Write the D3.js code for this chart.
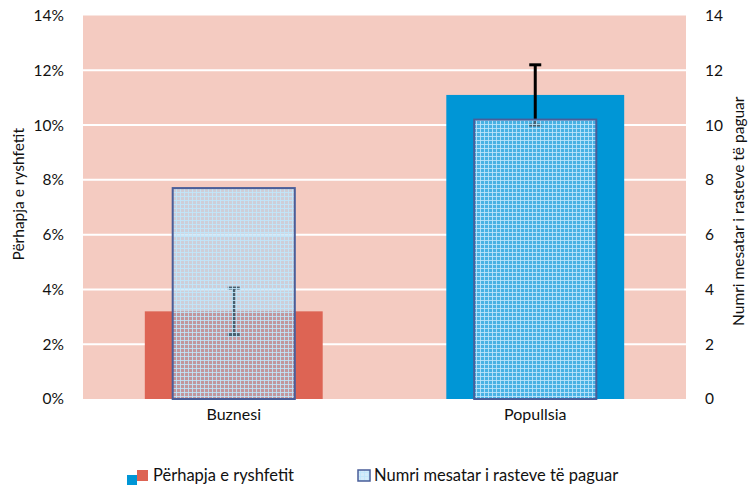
<!DOCTYPE html>
<html><head><meta charset="utf-8">
<script src="https://cdn.jsdelivr.net/npm/d3@7"></script>
<style>
body{margin:0;background:#fff}
svg{display:block}
text{font-family:Lato,"Liberation Sans",sans-serif;fill:#111}
</style>
</head><body><svg id="c" width="752" height="486"></svg>
<script>
const categories = ["Buznesi", "Popullsia"];
const prevalence = [3.2, 11.1];          // % (left axis)
const prevalenceErr = [0.85, 1.1];       // ± %
const meanCases = [7.7, 10.2];           // right axis
const leftTicks = [0, 2, 4, 6, 8, 10, 12, 14];
const rightTicks = [0, 2, 4, 6, 8, 10, 12, 14];
const prevalenceColors = ["#DD6454", "#0096D6"];
const leftTitle = "Përhapja e ryshfetit";
const rightTitle = "Numri mesatar i rasteve të paguar";
const legendLabels = ["Përhapja e ryshfetit", "Numri mesatar i rasteve të paguar"];

const svg = d3.select("#c");
const M = {l: 83, r: 686, t: 15.5, b: 399};

const x = d3.scaleBand().domain(categories).range([M.l, M.r]).padding(0);
const yL = d3.scaleLinear().domain([0, 14]).range([M.b, M.t]);
const yR = d3.scaleLinear().domain([0, 14]).range([M.b, M.t]);

// pattern
const defs = svg.append("defs");
const pat = defs.append("pattern").attr("id", "grid").attr("patternUnits", "userSpaceOnUse")
  .attr("width", 4).attr("height", 4);
pat.append("rect").attr("width", 4).attr("height", 4).attr("fill", "rgba(160,210,245,0.45)");
pat.append("rect").attr("x", 0).attr("y", 0).attr("width", 4).attr("height", 1).attr("fill", "rgba(192,230,252,0.85)");
pat.append("rect").attr("x", 0).attr("y", 0).attr("width", 1).attr("height", 4).attr("fill", "rgba(192,230,252,0.85)");

// plot background
svg.append("rect").attr("x", M.l).attr("y", M.t).attr("width", M.r - M.l).attr("height", M.b - M.t)
  .attr("fill", "#F4CBC1");

// gridlines
svg.append("g").selectAll("line").data(leftTicks.filter(d => d > 0 && d < 14)).join("line")
  .attr("x1", M.l).attr("x2", M.r)
  .attr("y1", d => yL(d)).attr("y2", d => yL(d))
  .attr("stroke", "#fff").attr("stroke-width", 2);

// prevalence bars
const bw1 = x.bandwidth() * 0.59;
svg.append("g").selectAll("rect").data(categories).join("rect")
  .attr("x", d => x(d) + (x.bandwidth() - bw1) / 2)
  .attr("width", bw1)
  .attr("y", (d, i) => yL(prevalence[i]))
  .attr("height", (d, i) => yL(0) - yL(prevalence[i]))
  .attr("fill", (d, i) => prevalenceColors[i]);

// error bars
const eg = svg.append("g").attr("stroke", "#000").attr("stroke-width", 3);
categories.forEach((c, i) => {
  const cx = x(c) + x.bandwidth() / 2;
  const y1 = yL(prevalence[i] - prevalenceErr[i]);
  const y2 = yL(prevalence[i] + prevalenceErr[i]);
  eg.append("line").attr("x1", cx).attr("x2", cx).attr("y1", y1).attr("y2", y2);
  eg.append("line").attr("x1", cx - 6).attr("x2", cx + 6).attr("y1", y1).attr("y2", y1);
  eg.append("line").attr("x1", cx - 6).attr("x2", cx + 6).attr("y1", y2).attr("y2", y2);
});

// mean cases bars
const bw2 = x.bandwidth() * 0.405;
svg.append("g").selectAll("rect").data(categories).join("rect")
  .attr("x", d => x(d) + (x.bandwidth() - bw2) / 2)
  .attr("width", bw2)
  .attr("y", (d, i) => yR(meanCases[i]))
  .attr("height", (d, i) => yR(0) - yR(meanCases[i]))
  .attr("fill", "url(#grid)")
  .attr("stroke", "#4A5E99").attr("stroke-width", 2);

// left axis
const axL = svg.append("g").attr("transform", `translate(${M.l},0)`)
  .call(d3.axisLeft(yL).tickValues(leftTicks).tickFormat(d => d + "%").tickSize(0).tickPadding(19));
axL.select(".domain").remove();
axL.selectAll("text").style("font-size", "15.5px").style("font-family", "Lato, sans-serif").attr("fill", "#111");

// right axis
const axR = svg.append("g").attr("transform", `translate(${M.r},0)`)
  .call(d3.axisRight(yR).tickValues(rightTicks).tickSize(0).tickPadding(19));
axR.select(".domain").remove();
axR.selectAll("text").style("font-size", "15.5px").style("font-family", "Lato, sans-serif").attr("fill", "#111");

// x axis labels
const axX = svg.append("g").attr("transform", `translate(0,${M.b})`)
  .call(d3.axisBottom(x).tickSize(0).tickPadding(10));
axX.select(".domain").remove();
axX.selectAll("text").style("font-size", "16px").style("font-family", "Lato, sans-serif").attr("fill", "#111");

// axis titles
svg.append("text").attr("transform", `translate(24,${(M.t + M.b) / 2 - 13}) rotate(-90)`)
  .attr("text-anchor", "middle").style("font-size", "15.5px").text(leftTitle);
svg.append("text").attr("transform", `translate(744,${(M.t + M.b) / 2 + 4}) rotate(-90)`)
  .attr("text-anchor", "middle").style("font-size", "15.5px").text(rightTitle);

// legend
const lg = svg.append("g");
lg.append("rect").attr("x", 127).attr("y", 475).attr("width", 10).attr("height", 10).attr("fill", prevalenceColors[1]);
lg.append("rect").attr("x", 137).attr("y", 470).attr("width", 11).attr("height", 11).attr("fill", prevalenceColors[0]);
lg.append("text").attr("x", 153).attr("y", 481).style("font-size", "16.5px").text(legendLabels[0]);
lg.append("rect").attr("x", 358).attr("y", 470).attr("width", 12).attr("height", 11)
  .attr("fill", "#fff");
lg.append("rect").attr("x", 358).attr("y", 470).attr("width", 12).attr("height", 11)
  .attr("fill", "url(#grid)").attr("stroke", "#4A5E99").attr("stroke-width", 1.5);
lg.append("text").attr("x", 374).attr("y", 481).style("font-size", "16.5px").text(legendLabels[1]);
</script>
</body></html>
